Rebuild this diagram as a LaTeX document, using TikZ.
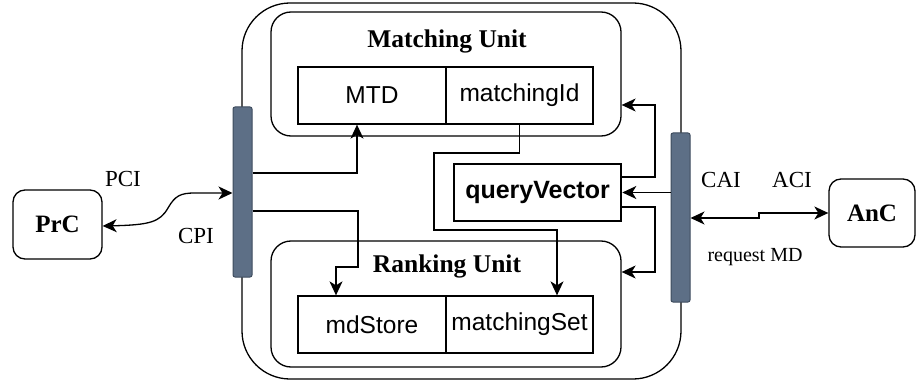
\documentclass[tikz,border=0pt]{standalone}
\usepackage{fontspec}
\setmainfont{Liberation Serif}
\setsansfont{Liberation Sans}
\usetikzlibrary{arrows.meta,calc}
\definecolor{barfill}{HTML}{5D6F86}
\definecolor{barline}{HTML}{3E4C5E}
\tikzset{
  box/.style={draw, line width=1.3pt, inner sep=0pt},
  unit/.style={box, rounded corners=20pt, minimum width=350pt},
  cell/.style={box, minimum width=148pt, minimum height=57pt,
    font=\sffamily\fontsize{24.5}{28}\selectfont},
  bus/.style={draw=barline, fill=barfill, line width=1pt, rounded corners=2pt,
    minimum width=19pt, inner sep=0pt},
  party/.style={box, rounded corners=12pt, font=\bfseries\fontsize{25}{30}\selectfont},
  title/.style={font=\bfseries\fontsize{25.5}{30}\selectfont},
  lbl/.style={font=\fontsize{23}{27}\selectfont},
  link/.style={line width=1.3pt, -{Stealth[length=14pt,width=13pt,inset=4pt]}},
  dlink/.style={line width=1.3pt, {Stealth[length=14pt,width=13pt,inset=4pt]}-{Stealth[length=14pt,width=13pt,inset=4pt]}}
}
\begin{document}
\begin{tikzpicture}[x=1pt,y=-1pt]
\useasboundingbox (0,0) rectangle (916,385);

% outer component frame
\node[box, rounded corners=48pt, minimum width=439pt, minimum height=376pt] (outer) at (461.5,191) {};

% matching unit
\node[unit, minimum height=124pt] (mu) at (446,74) {};
\node[title] (mutitle) at (447,41) {Matching Unit};
\node[cell] (mtd) at (372,95.5) {MTD};
\node[cell, minimum width=147pt] (mid) at (519.5,95.5) {matchingId};

% ranking unit
\node[unit, minimum height=126pt] (ru) at (446,304) {};
\node[title] (rutitle) at (447,266) {Ranking Unit};
\node[cell] (mds) at (372,324.5) {mdStore};
\node[cell, minimum width=147pt] (mset) at (519.5,324.5) {matchingSet};

% query vector
\node[box, line width=2.6pt, minimum width=167pt, minimum height=57pt,
  font=\sffamily\bfseries\fontsize{25}{29}\selectfont] (qv) at (537.5,192.5) {queryVector};

% interface bars
\node[bus, minimum height=170pt] (lbar) at (242.5,192) {};
\node[bus, minimum height=169pt] (rbar) at (680.5,217.5) {};

% external parties
\node[party, minimum width=89pt, minimum height=69pt] (prc) at (57.5,224.5) {PrC};
\node[party, minimum width=86pt, minimum height=68pt] (anc) at (872,213) {AnC};

% interface labels
\node[lbl] (pci) at (123,179) {PCI};
\node[lbl] (cpi) at (196,236) {CPI};
\node[lbl] (cai) at (721,180) {CAI};
\node[lbl] (aci) at (792,180) {ACI};
\node[font=\fontsize{20}{24}\selectfont] (req) at (755,257) {request MD};

% bend points
\coordinate (m1) at (357,173);
\coordinate (k1) at (358,211);
\coordinate (k2) at (358,267);
\coordinate (k3) at (336,267);
\coordinate (p1) at (519.5,153);
\coordinate (p2) at (434,153);
\coordinate (p3) at (434,230);
\coordinate (p4) at (557,230);
\coordinate (r1) at (655,177);
\coordinate (r2) at (655,105);
\coordinate (t1) at (655,207);
\coordinate (t2) at (655,272);
\coordinate (s1) at (759,218);
\coordinate (s2) at (759,213);
\coordinate (c1) at (232.5,193);
\coordinate (c0) at (102,226);

% connectors
\draw[link] (lbar.east |- m1) -| (mtd.south -| m1);
\draw[link] (lbar.east |- k1) -- (k1) -- (k2) -- (k3) -- (mds.north -| k3);
\draw[link] (mid.south) -- (p1) -- (p2) -- (p3) -- (p4) -- (mset.north -| p4);
\draw[link] (rbar.west |- qv.east) -- (qv.east);
\draw[link] (qv.east |- r1) -- (r1) -- (r2) -- (mu.east |- r2);
\draw[link] (qv.east |- t1) -- (t1) -- (t2) -- (ru.east |- t2);
\draw[dlink] (rbar.east |- s1) -- (s1) -- (s2) -- (anc.west |- s2);
\draw[dlink] (prc.east |- c0) .. controls (150,225) and (160,222) .. (168,208) .. controls (175,196) and (180,193) .. (195,193) -- (c1);
\end{tikzpicture}
\end{document}
